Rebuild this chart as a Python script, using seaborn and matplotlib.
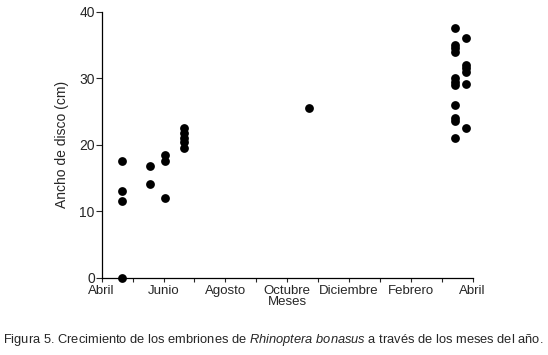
import pandas as pd
import matplotlib.pyplot as plt
import seaborn as sns

# Data: month position (0 = Abril) and disc width (cm)
mes = [0.66, 0.66, 0.66, 0.66,
       1.55, 1.55,
       2.05, 2.05, 2.05,
       2.67, 2.67, 2.67, 2.67, 2.67,
       6.69,
       11.43, 11.43, 11.43, 11.43, 11.43, 11.43, 11.43, 11.43, 11.43, 11.43, 11.43,
       11.78, 11.78, 11.78, 11.78, 11.78, 11.78]
ancho = [17.5, 13.0, 11.6, 0.0,
         16.8, 14.1,
         18.5, 17.5, 12.0,
         22.5, 21.8, 21.1, 20.5, 19.5,
         25.6,
         37.6, 35.0, 34.5, 34.0, 30.0, 29.5, 29.0, 26.0, 24.0, 23.6, 21.0,
         36.1, 32.0, 31.5, 30.9, 29.2, 22.6]
tick_meses = list(range(13))
tick_labels = ['Abril', '', 'Junio', '', 'Agosto', '', 'Octubre', '',
               'Diciembre', '', 'Febrero', '', 'Abril']

df = pd.DataFrame({'Mes': mes, 'Ancho': ancho})

sns.set_style('white')
plt.rcParams['font.family'] = ['Liberation Sans', 'DejaVu Sans']
plt.rcParams['mathtext.fontset'] = 'custom'
plt.rcParams['mathtext.it'] = 'Liberation Sans:italic'
plt.rcParams['mathtext.rm'] = 'Liberation Sans'

fig = plt.figure(figsize=(5.48, 3.55), dpi=100)
ax = fig.add_axes([0.1856, 0.217, 0.677, 0.75])

sns.scatterplot(data=df, x='Mes', y='Ancho', color='black', s=40,
                edgecolor='black', linewidth=0, clip_on=False, ax=ax, legend=False)

ax.set_xlim(0, 12)
ax.set_ylim(0, 40)
ax.set_xticks(tick_meses)
ax.set_xticklabels(tick_labels, fontsize=9.5)
ax.set_yticks([0, 10, 20, 30, 40])
ax.tick_params(axis='y', labelsize=10, length=4, width=0.8, direction='out', left=True, pad=1)
ax.tick_params(axis='x', length=3, width=0.8, direction='out', bottom=True, pad=2)
ax.set_xlabel('Meses', fontsize=9.5, labelpad=-1)
ax.set_ylabel('Ancho de disco (cm)', fontsize=10, labelpad=7)
for side in ['top', 'right']:
    ax.spines[side].set_visible(False)
for side in ['left', 'bottom']:
    ax.spines[side].set_color('black')
    ax.spines[side].set_linewidth(0.9)

fig.text(0.005, 0.042,
         r'Figura 5. Crecimiento de los embriones de $\it{Rhinoptera\ bonasus}$ a través de los meses del año.',
         fontsize=9.3, ha='left', va='center')

fig.savefig('out.png', dpi=100)
